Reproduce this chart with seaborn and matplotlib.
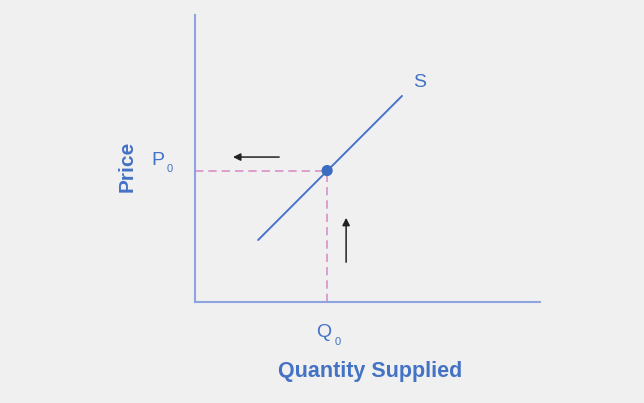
import seaborn as sns
import pandas as pd
import matplotlib.pyplot as plt

# supply curve (quantity, price) in arbitrary units
supply_q = [1.83, 6.0]
supply_p = [2.16, 7.18]

# equilibrium point
eq_q = [3.83]
eq_p = [4.58]

# shift arrows: (start, end)
left_arrow_q = [2.52, 1.02]
left_arrow_p = [5.05, 5.05]
up_arrow_q = [4.38, 4.38]
up_arrow_p = [1.29, 3.03]

bg = '#f0f0f0'
blue = '#4472c4'
axis_blue = '#8fa3de'
pink = '#d98fc8'

sns.set_theme(style="white")
plt.rcParams['font.family'] = ['Liberation Sans', 'DejaVu Sans']

fig = plt.figure(figsize=(6.44, 4.03), dpi=100, facecolor=bg)
ax = fig.add_axes([195 / 644, 101 / 403, 345 / 644, 287 / 403])
ax.set_facecolor(bg)
ax.set_xlim(0, 10)
ax.set_ylim(0, 10)

df = pd.DataFrame({'q': supply_q, 'p': supply_p})
sns.lineplot(data=df, x='q', y='p', color='#4a74c9', lw=1.4, ax=ax)

# dashed guides to the axes
ax.plot([0, eq_q[0]], [eq_p[0], eq_p[0]], ls=(0, (5, 3)), color=pink, lw=1.2)
ax.plot([eq_q[0], eq_q[0]], [0, eq_p[0]], ls=(0, (5, 3)), color=pink, lw=1.2)

sns.scatterplot(x=eq_q, y=eq_p, s=65, color='#3a6cc0', edgecolor='none', ax=ax, zorder=5)

arrow = dict(arrowstyle='-|>', color='#222222', lw=1.1, mutation_scale=11)
ax.annotate('', xy=(left_arrow_q[1], left_arrow_p[1]), xytext=(left_arrow_q[0], left_arrow_p[0]), arrowprops=arrow)
ax.annotate('', xy=(up_arrow_q[1], up_arrow_p[1]), xytext=(up_arrow_q[0], up_arrow_p[0]), arrowprops=arrow)

# axes lines only
for side in ['top', 'right']:
    ax.spines[side].set_visible(False)
for side in ['left', 'bottom']:
    ax.spines[side].set_color(axis_blue)
    ax.spines[side].set_linewidth(1.5)
ax.set_xticks([])
ax.set_yticks([])
ax.set_xlabel('')
ax.set_ylabel('')

# labels
ax.text(6.52, 7.65, 'S', color=blue, fontsize=14, ha='center', va='center')
ax.text(-1.08, 4.92, 'P', color=blue, fontsize=14, ha='center', va='center', clip_on=False)
ax.text(-0.72, 4.62, '0', color=blue, fontsize=8, ha='center', va='center', clip_on=False)
ax.text(3.74, -1.08, 'Q', color=blue, fontsize=14, ha='center', va='center', clip_on=False)
ax.text(4.14, -1.39, '0', color=blue, fontsize=8, ha='center', va='center', clip_on=False)

fig.text(127 / 644, 1 - 166 / 403, 'Price', color=blue, fontsize=15, fontweight='bold',
         rotation=90, ha='center', va='center')
fig.text(370 / 644, 1 - 371 / 403, 'Quantity Supplied', color=blue, fontsize=15.5,
         fontweight='bold', ha='center', va='center')

fig.savefig('out.png', dpi=100, facecolor=bg)
